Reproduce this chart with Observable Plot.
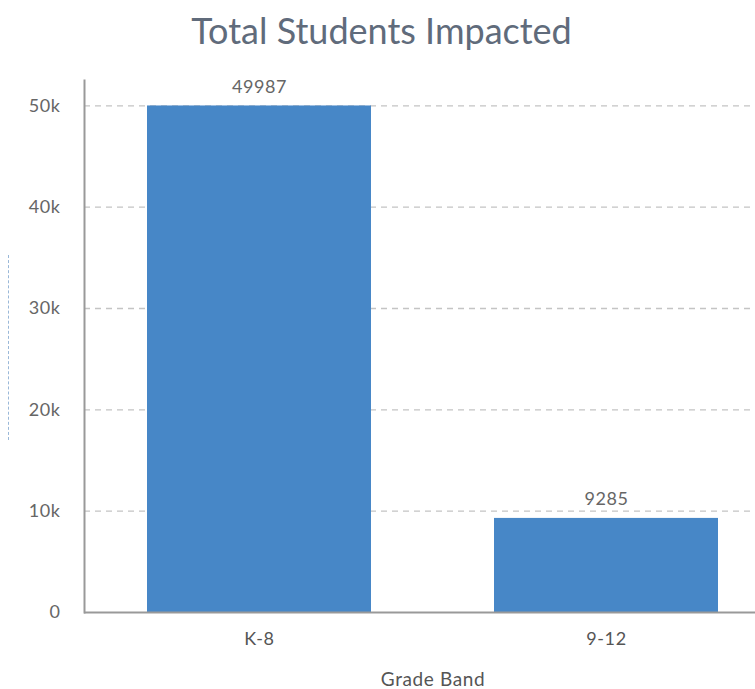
<!DOCTYPE html>
<html>
<head>
<meta charset="utf-8">
<script src="https://cdn.jsdelivr.net/npm/d3@7"></script>
<script src="https://cdn.jsdelivr.net/npm/@observablehq/plot@0.6"></script>
<style>
  html, body { margin: 0; padding: 0; background: #fff; }
  body { width: 755px; height: 689px; overflow: hidden; position: relative; font-family: Lato, "Open Sans", sans-serif; }
  #title { height: 60px; line-height: 60px; text-align: center; font-size: 36px; color: #606b7b; font-family: Lato, sans-serif; padding-left: 8px; }
  #ylab { position: absolute; left: 8px; top: 255px; height: 185px; border-left: 1px dashed #9ab8d8; }
  svg { display: block; }
  svg text { letter-spacing: 0.6px; }
</style>
</head>
<body>
<div id="title">Total Students Impacted</div>
<div id="ylab"></div>
<div id="chart"></div>
<script>
const categories = ["K-8", "9-12"];
const students = [49987, 9285];
const yTicks = [0, 10000, 20000, 30000, 40000, 50000];

const data = categories.map((c, i) => ({band: c, value: students[i]}));

const chart = Plot.plot({
  width: 755,
  height: 629,
  marginLeft: 84,
  marginRight: 0,
  marginTop: 20,
  marginBottom: 77,
  style: {fontFamily: "Lato, sans-serif", fontSize: "18px", color: "#666"},
  x: {domain: categories, range: [84, 781.5], paddingInner: 0.355, paddingOuter: 0.181, label: null},
  y: {domain: [0, 52500], label: null},
  marks: [
    Plot.ruleY(yTicks.filter(d => d > 0), {stroke: "#c4c4c4", strokeDasharray: "6,5", strokeWidth: 1.3}),
    Plot.barY(data, {x: "band", y: "value", fill: "#4787c7"}),
    Plot.text(data, {x: "band", y: "value", text: d => String(d.value), dy: -19, fill: "#666", fontSize: 18}),
    Plot.axisY({ticks: yTicks, tickFormat: d3.format("~s"), tickSize: 0, tickPadding: 24, fontSize: 18, fill: "#666", label: null}),
    Plot.axisX({tickSize: 0, tickPadding: 20, fontSize: 18, fill: "#555", label: null}),
    Plot.frame({anchor: "left", stroke: "#999", strokeWidth: 2}),
    Plot.ruleY([0], {stroke: "#999", strokeWidth: 2}),
    Plot.text(["Grade Band"], {frameAnchor: "bottom", dx: 13, dy: 73, fill: "#555", fontSize: 19, style: "letter-spacing:1px"})
  ]
});
document.getElementById("chart").appendChild(chart);
</script>
</body>
</html>
